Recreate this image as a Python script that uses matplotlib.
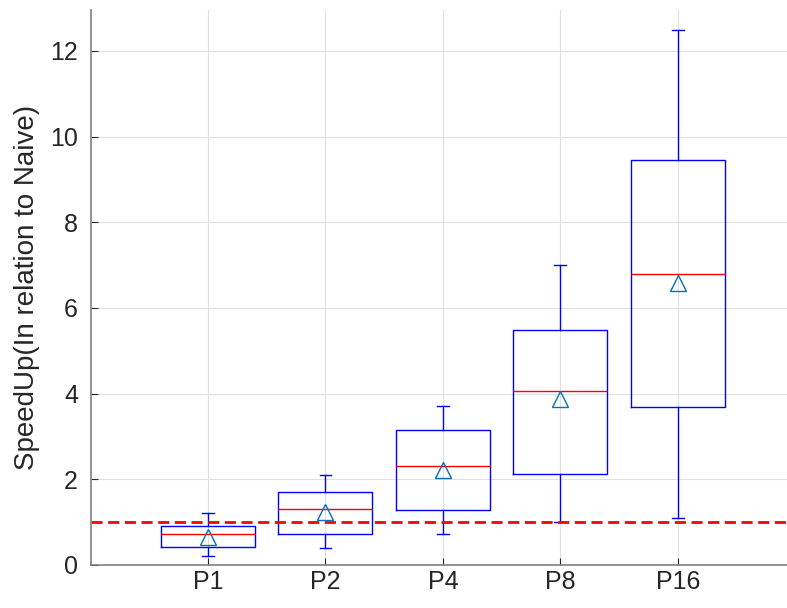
import matplotlib.pyplot as plt

plt.rcParams['font.family'] = ['Liberation Sans', 'DejaVu Sans']

labels = ['P1', 'P2', 'P4', 'P8', 'P16']
whislo = [0.21, 0.40, 0.71, 1.00, 1.10]
q1 = [0.41, 0.71, 1.28, 2.13, 3.68]
med = [0.71, 1.31, 2.30, 4.05, 6.79]
q3 = [0.90, 1.70, 3.14, 5.49, 9.46]
whishi = [1.20, 2.10, 3.70, 7.00, 12.48]
means = [0.66, 1.23, 2.21, 3.88, 6.58]
baseline = 1.0


def make_stats():
    stats = []
    for i in range(len(labels)):
        stats.append({'label': labels[i], 'whislo': whislo[i], 'q1': q1[i],
                      'med': med[i], 'q3': q3[i], 'whishi': whishi[i],
                      'mean': means[i], 'fliers': []})
    return stats


fig = plt.figure(figsize=(7.87, 6.08), dpi=100)
ax = fig.add_axes([0.115, 0.071, 0.885, 0.913])

ax.grid(True, color='#e0e0e0', lw=0.8)
ax.set_axisbelow(True)

blue = (0, 0, 1)
ax.bxp(make_stats(), positions=range(1, len(labels) + 1), widths=0.8,
       capwidths=0.1, showmeans=True, showfliers=False,
       boxprops=dict(color=blue, lw=1),
       whiskerprops=dict(color=blue, lw=1),
       capprops=dict(color=blue, lw=1),
       medianprops=dict(color='red', lw=1),
       meanprops=dict(marker='^', markersize=12, markerfacecolor='none',
                      markeredgecolor='#0072BD', markeredgewidth=1))

ax.axhline(baseline, color='red', ls='--', lw=2, dashes=(4, 2))

ax.set_xlim(0, 5.93)
ax.set_ylim(0, 12.96)
ax.set_yticks(range(0, 13, 2))
ax.set_ylabel('SpeedUp(In relation to Naive)', fontsize=20, color='#262626')
ax.yaxis.set_label_coords(-0.073, 0.5)

for s in ['top', 'right']:
    ax.spines[s].set_visible(False)
for s in ['left', 'bottom']:
    ax.spines[s].set_color('#808080')
    ax.spines[s].set_linewidth(1.2)
ax.tick_params(direction='in', labelsize=18, colors='#262626', length=5)
ax.tick_params(axis='y', pad=9)

fig.savefig('out.png', dpi=100)
